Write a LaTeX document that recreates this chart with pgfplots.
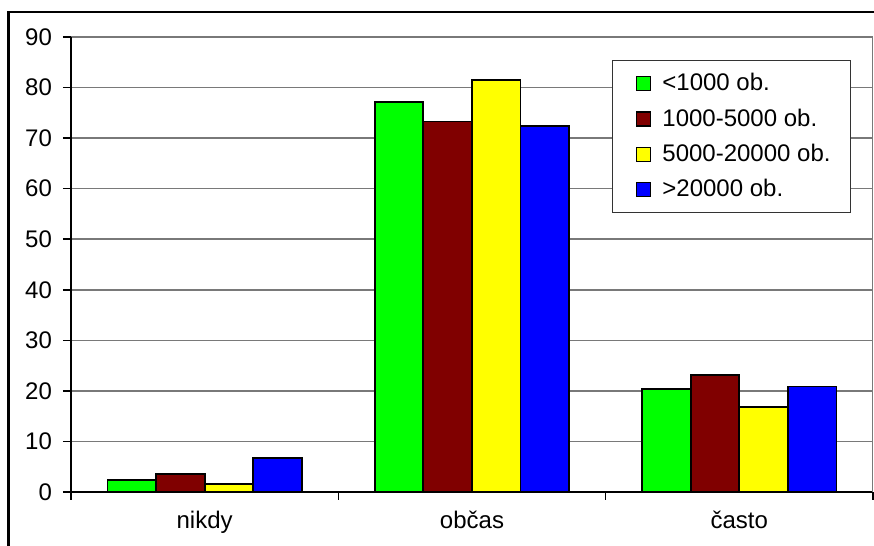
\documentclass[border=0pt]{standalone}
\usepackage{pgfplots}
\pgfplotsset{compat=1.18}
\usepackage{fontspec}
\setmainfont{Liberation Sans}
\definecolor{cgreen}{RGB}{0,255,0}
\definecolor{cred}{RGB}{128,0,0}
\definecolor{cyellow}{RGB}{255,255,0}
\definecolor{cblue}{RGB}{0,0,255}
\newcommand{\chfont}{\fontsize{12}{14.4}\selectfont}
\begin{document}
\begin{tikzpicture}
\useasboundingbox (0,0) rectangle (437pt,273pt);
\fill[white] (0,0) rectangle (437pt,273pt);
\draw[black, line width=1.25pt] (4.25pt,-10pt) -- (4.25pt,267pt) -- (460pt,267pt);
\begin{axis}[
  at={(35.5pt,27pt)}, anchor=south west,
  scale only axis, width=401pt, height=227.5pt,
  xmin=-0.5, xmax=2.5, ymin=0, ymax=90,
  ytick={0,10,...,90},
  axis lines*=left,
  axis line style={-, black, line width=0.8pt},
  ymajorgrids, grid style={gray!95!black, line width=0.8pt},
  tick align=outside, major tick length=4pt,
  tick style={black, line width=0.8pt},
  xtick={-0.5,0.5,1.5,2.5}, xticklabels={},
  extra x ticks={0,1,2},
  extra x tick labels={nikdy,občas,často},
  extra x tick style={major tick length=0pt, grid=none},
  xticklabel style={yshift=-6pt},
  yticklabel style={xshift=-2pt},
  tick label style={font=\chfont},
  /pgf/number format/assume math mode=true,
  ybar=0pt, bar width=24.3pt,
  legend style={at={(0.6746,0.9495)}, anchor=north west, draw=black!80, line width=0.6pt,
    font=\chfont, cells={anchor=west}, row sep=3.4pt, inner xsep=8pt, inner ysep=4.5pt},
  legend image code/.code={\draw[#1, line width=0.6pt] (0pt,-3.5pt) rectangle (7pt,3.5pt); \path (-3.5pt,0pt) (10.5pt,0pt);},
]
\addplot[fill=cgreen, draw=black, line width=0.9pt] coordinates {(0,2.35) (1,77.2) (2,20.45)};
\addplot[fill=cred, draw=black, line width=0.9pt] coordinates {(0,3.55) (1,73.3) (2,23.1)};
\addplot[fill=cyellow, draw=black, line width=0.9pt] coordinates {(0,1.6) (1,81.5) (2,16.75)};
\addplot[fill=cblue, draw=black, line width=0.9pt] coordinates {(0,6.75) (1,72.4) (2,20.85)};
\legend{<1000 ob.,1000-5000 ob.,5000-20000 ob.,>20000 ob.}
\draw[gray!95!black, line width=0.8pt] (rel axis cs:1,0) -- (rel axis cs:1,1);
\end{axis}
\end{tikzpicture}
\end{document}
